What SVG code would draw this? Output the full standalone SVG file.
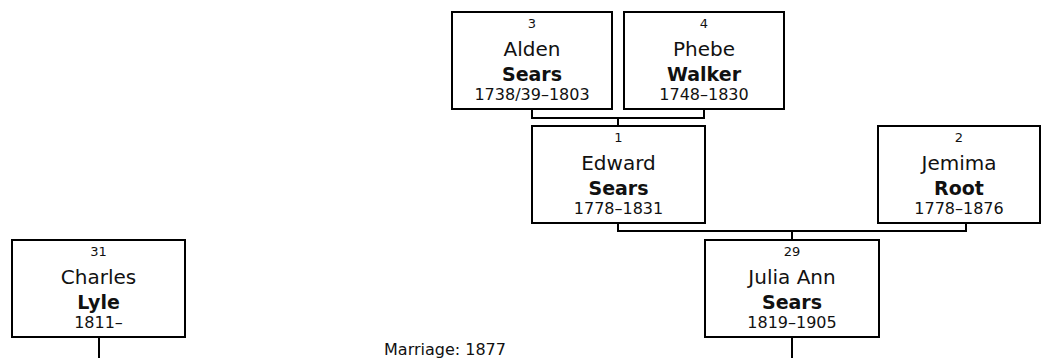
<svg xmlns="http://www.w3.org/2000/svg" width="1042" height="358" viewBox="0 0 1042 358">
<style>
.box{fill:#fff;stroke:#000;stroke-width:2}
.conn{fill:none;stroke:#000;stroke-width:2}
text{font-family:"DejaVu Sans",Verdana,sans-serif;fill:#111;text-anchor:middle}
.num{font-size:13px}
.given{font-size:20px}
.sur{font-size:19px;font-weight:bold}
.dates{font-size:16px}
.lbl{font-size:16px}
</style>
<rect width="1042" height="358" fill="#fff"/>
<g id="connectors">
<path class="conn" d="M532,110 V118 H704 V110 M618,118 V126"/>
<path class="conn" d="M618,224 V231 H966 V224 M792,231 V240"/>
<path class="conn" d="M792,338 V358"/>
<path class="conn" d="M99,338 V358"/>
</g>
<g id="n3">
<rect class="box" x="452" y="12" width="160" height="97"/>
<text class="num" x="532" y="28">3</text>
<text class="given" x="532" y="56">Alden</text>
<text class="sur" x="532" y="81">Sears</text>
<text class="dates" x="532" y="100">1738/39–1803</text>
</g>
<g id="n4">
<rect class="box" x="624" y="12" width="160" height="97"/>
<text class="num" x="704" y="28">4</text>
<text class="given" x="704" y="56">Phebe</text>
<text class="sur" x="704" y="81">Walker</text>
<text class="dates" x="704" y="100">1748–1830</text>
</g>
<g id="n1">
<rect class="box" x="532" y="126" width="173" height="97"/>
<text class="num" x="618.5" y="142">1</text>
<text class="given" x="618.5" y="170">Edward</text>
<text class="sur" x="618.5" y="195">Sears</text>
<text class="dates" x="618.5" y="214">1778–1831</text>
</g>
<g id="n2">
<rect class="box" x="878" y="126" width="162" height="97"/>
<text class="num" x="959" y="142">2</text>
<text class="given" x="959" y="170">Jemima</text>
<text class="sur" x="959" y="195">Root</text>
<text class="dates" x="959" y="214">1778–1876</text>
</g>
<g id="n29">
<rect class="box" x="705" y="240" width="174" height="97"/>
<text class="num" x="792" y="256">29</text>
<text class="given" x="792" y="284">Julia Ann</text>
<text class="sur" x="792" y="309">Sears</text>
<text class="dates" x="792" y="328">1819–1905</text>
</g>
<g id="n31">
<rect class="box" x="12" y="240" width="173" height="97"/>
<text class="num" x="98.5" y="256">31</text>
<text class="given" x="98.5" y="284">Charles</text>
<text class="sur" x="98.5" y="309">Lyle</text>
<text class="dates" x="98.5" y="328">1811–</text>
</g>
<text class="lbl" x="445" y="355">Marriage: 1877</text>
</svg>
